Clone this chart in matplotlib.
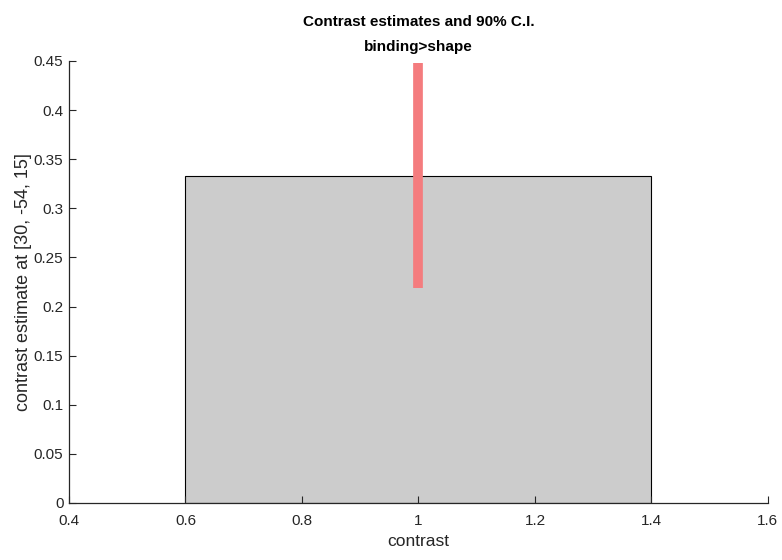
import matplotlib
matplotlib.use('Agg')
import matplotlib.pyplot as plt

plt.rcParams['font.family'] = ['Liberation Sans', 'DejaVu Sans']

# contrast estimate and its 90% confidence interval
contrast_pos = [1.0]
estimate = [0.333]
ci_low = [0.219]
ci_high = [0.448]

fig = plt.figure(figsize=(7.82, 5.6), dpi=100)
ax = fig.add_axes([0.0882, 0.1018, 0.8938, 0.7893])

ax.bar(contrast_pos, estimate, width=0.8, color='#cccccc', edgecolor='black', linewidth=0.8)
for x, lo, hi in zip(contrast_pos, ci_low, ci_high):
    ax.plot([x, x], [lo, hi], color='#f47c7e', linewidth=7, solid_capstyle='butt')

ax.set_xlim(0.4, 1.6)
ax.set_ylim(0, 0.45)
ax.set_xticks([0.4, 0.6, 0.8, 1.0, 1.2, 1.4, 1.6])
ax.set_xticklabels(['0.4', '0.6', '0.8', '1', '1.2', '1.4', '1.6'])
ax.set_yticks([0, 0.05, 0.1, 0.15, 0.2, 0.25, 0.3, 0.35, 0.4, 0.45])
ax.set_yticklabels(['0', '0.05', '0.1', '0.15', '0.2', '0.25', '0.3', '0.35', '0.4', '0.45'])
ax.tick_params(direction='in', length=5, width=0.8, labelsize=11, colors='#262626')
ax.tick_params(axis='x', pad=8)
ax.tick_params(axis='y', pad=4)
for s in ['top', 'right']:
    ax.spines[s].set_visible(False)
for s in ['left', 'bottom']:
    ax.spines[s].set_linewidth(0.9)
    ax.spines[s].set_color('#262626')

ax.set_xlabel('contrast', fontsize=12.5, labelpad=4, color='#262626')
ax.set_ylabel('contrast estimate at [30, -54, 15]', fontsize=13, labelpad=1, color='#262626')
ax.set_title('Contrast estimates and 90% C.I.\nbinding>shape', fontsize=11, fontweight='bold',
             linespacing=2.0, pad=7)

fig.savefig('out.png', dpi=100)
